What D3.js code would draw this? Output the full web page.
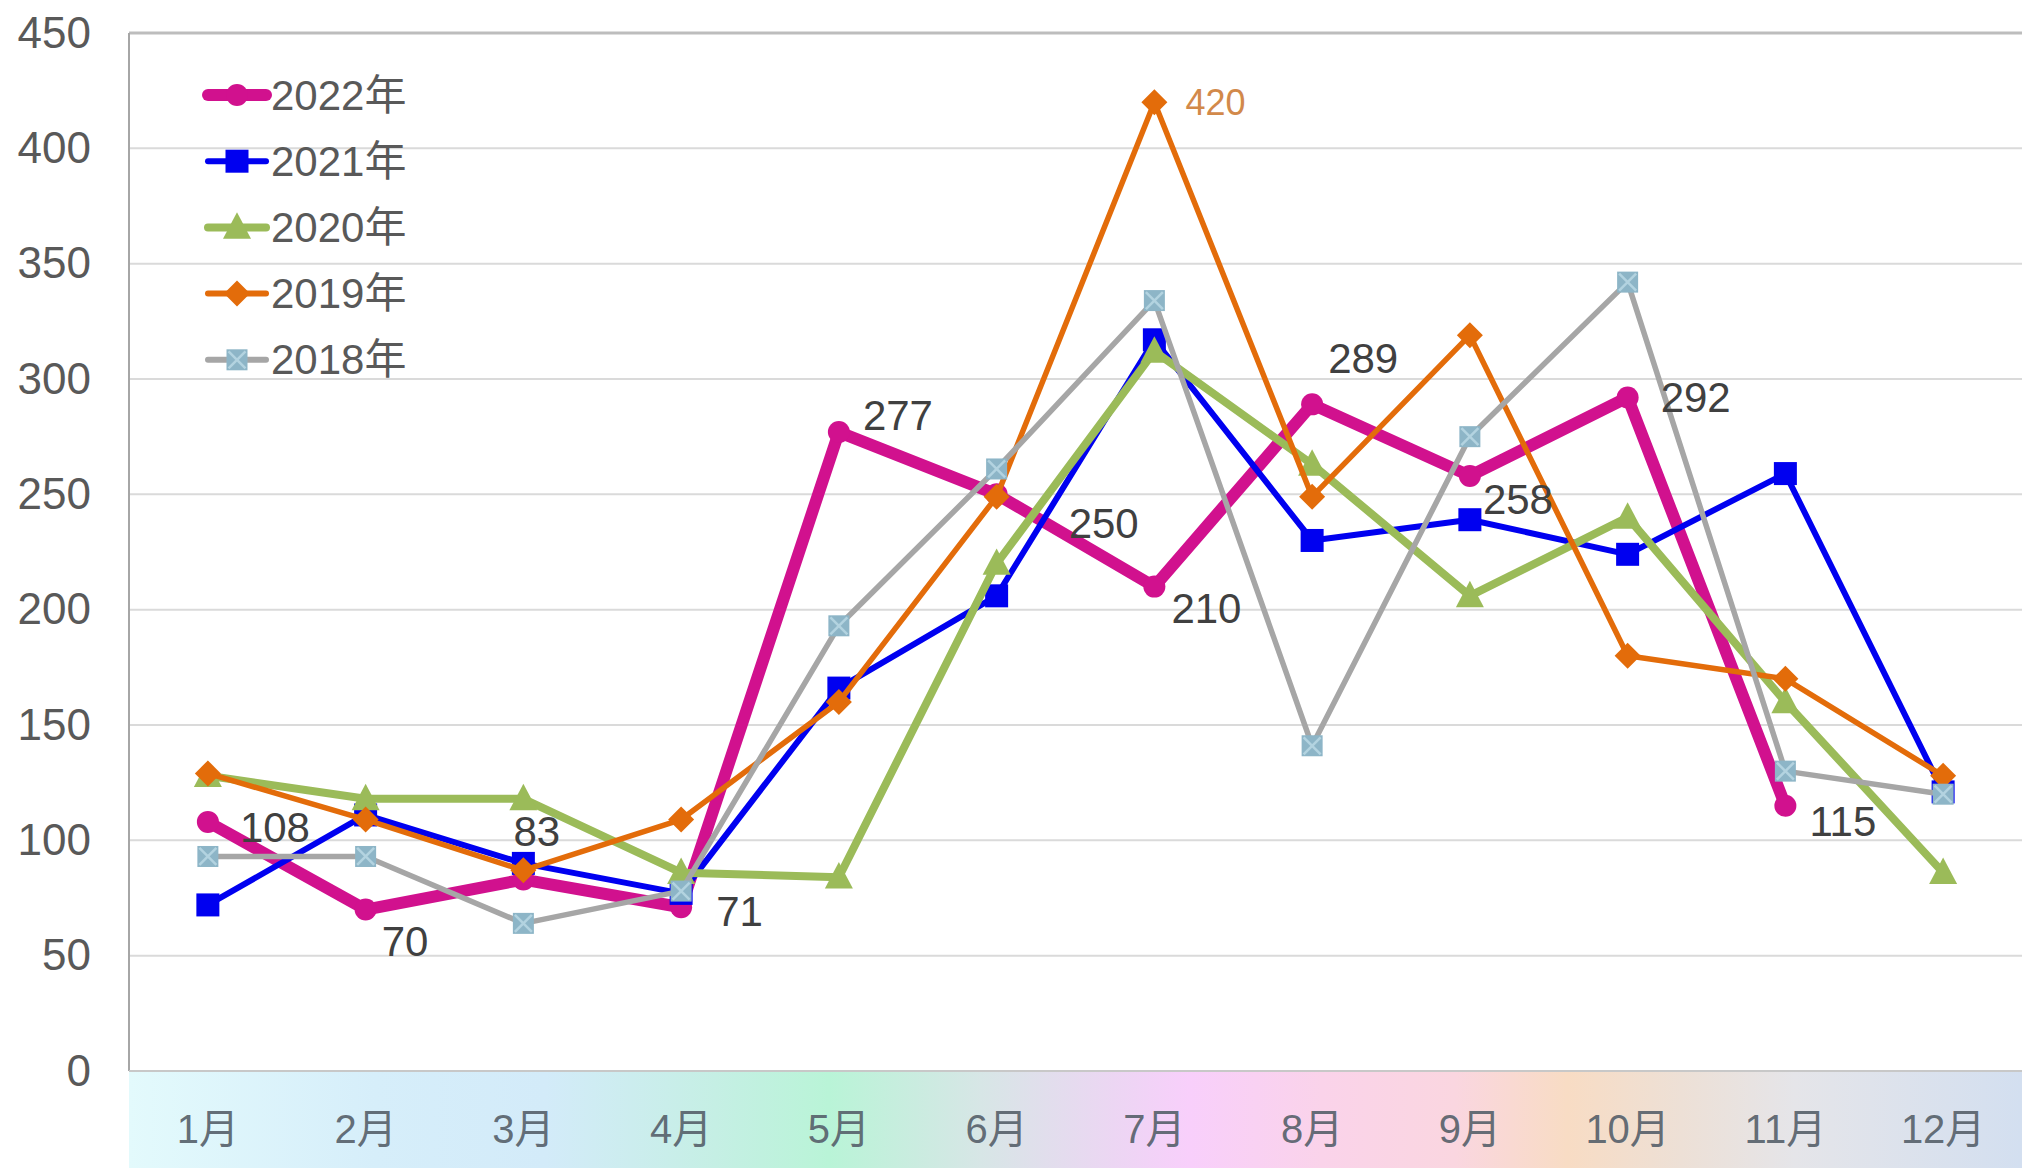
<!DOCTYPE html>
<html>
<head>
<meta charset="utf-8">
<script src="https://cdn.jsdelivr.net/npm/d3@7"></script>
<style>
  html, body { margin: 0; padding: 0; background: #fff; }
  svg { display: block; }
  text { font-family: "Liberation Sans", Arial, "Noto Sans CJK SC", sans-serif; }
</style>
</head>
<body>
<svg id="chart" width="2022" height="1168"></svg>
<script>
// ---------------- DATA ----------------
const months = ["1月","2月","3月","4月","5月","6月","7月","8月","9月","10月","11月","12月"];
const yTicks = [0, 50, 100, 150, 200, 250, 300, 350, 400, 450];
const seriesNames = ["2022年", "2021年", "2020年", "2019年", "2018年"];
const v2022 = [108, 70, 83, 71, 277, 250, 210, 289, 258, 292, 115, null];
const v2021 = [72, 111, 90, 77, 166, 206, 317, 230, 239, 224, 259, 121];
const v2020 = [128, 118, 118, 86, 84, 220, 312, 263, 206, 240, 160, 86];
const v2019 = [129, 109, 87, 109, 160, 249, 420, 249, 319, 180, 170, 128];
const v2018 = [93, 93, 64, 78, 193, 261, 334, 141, 275, 342, 130, 120];
// labelled points: 2022 series all points, 2019 only the peak
const label2019 = [null, null, null, null, null, null, 420, null, null, null, null, null];

// ---------------- LAYOUT / STYLE ----------------
const W = 2022, H = 1168;
const plot = { left: 129, right: 2022, top: 33, bottom: 1071 };
const styles = [
  { color: "#d1118e", width: 12, marker: "circle",   size: 11 },
  { color: "#0000f0", width: 6,  marker: "square",   size: 23 },
  { color: "#9bbb59", width: 8,  marker: "triangle", size: 28 },
  { color: "#e36c0a", width: 5.5,marker: "diamond",  size: 13 },
  { color: "#a6a6a6", width: 5.5,marker: "xsquare",  size: 21 }
];
// label offsets [dx (text start), dy (text middle)] for 2022 labels
const labelOffsets2022 = [[32,6],[16,32],[-10,-48],[35,4],[24,-17],[72,29],[17,22],[16,-46],[13,24],[33,0],[24,16],[0,0]];

const allSeries = [v2022, v2021, v2020, v2019, v2018];

const svg = d3.select("#chart");

const x = d3.scalePoint().domain(months).range([plot.left, plot.right]).padding(0.5);
const y = d3.scaleLinear().domain([0, 450]).range([plot.bottom, plot.top]);

// gradient for category band
const defs = svg.append("defs");
const grad = defs.append("linearGradient").attr("id", "bandGrad").attr("x1", "0%").attr("x2", "100%");
[
  [0, "#e3fafc"], [0.13, "#d6eefa"], [0.22, "#d3ebf9"], [0.31, "#c5efe4"], [0.37, "#b9f4d7"],
  [0.45, "#d7e6e6"], [0.52, "#ecd6f3"], [0.56, "#f8cffb"], [0.63, "#fad3ea"], [0.70, "#fad6e0"],
  [0.76, "#f8dcc4"], [0.82, "#ede0d6"], [0.88, "#e5e5e9"], [1, "#d3dff0"]
].forEach(([o, c]) => grad.append("stop").attr("offset", o).attr("stop-color", c));

svg.append("rect")
  .attr("x", plot.left).attr("y", plot.bottom)
  .attr("width", plot.right - plot.left).attr("height", H - plot.bottom)
  .attr("fill", "url(#bandGrad)");

// gridlines
svg.append("g").selectAll("line").data(yTicks.filter(t => t > 0 && t < 450)).join("line")
  .attr("x1", plot.left).attr("x2", plot.right)
  .attr("y1", d => y(d)).attr("y2", d => y(d))
  .attr("stroke", "#dadada").attr("stroke-width", 2);

// plot border top, left axis, baseline
svg.append("line").attr("x1", plot.left).attr("x2", plot.right).attr("y1", plot.top).attr("y2", plot.top)
  .attr("stroke", "#bdbdbd").attr("stroke-width", 3);
svg.append("line").attr("x1", plot.left).attr("x2", plot.left).attr("y1", plot.top).attr("y2", plot.bottom)
  .attr("stroke", "#a6a6a6").attr("stroke-width", 2);
svg.append("line").attr("x1", plot.left).attr("x2", plot.right).attr("y1", plot.bottom).attr("y2", plot.bottom)
  .attr("stroke", "#c8c8c8").attr("stroke-width", 2);

// y axis labels
const yAxis = d3.axisLeft(y).tickValues(yTicks).tickSize(0).tickPadding(0);
const gy = svg.append("g").attr("transform", `translate(${plot.left - 38},0)`).call(yAxis);
gy.select(".domain").remove();
gy.selectAll("text").attr("font-size", 44).attr("fill", "#595959")
  .style("font-family", '"Liberation Sans", Arial, sans-serif');

// x axis labels
const xAxis = d3.axisBottom(x).tickSize(0).tickPadding(0);
const gx = svg.append("g").attr("transform", `translate(0,${plot.bottom + 44})`).call(xAxis);
gx.select(".domain").remove();
gx.selectAll("text").attr("font-size", 41).attr("fill", "#57616b").attr("fill-opacity", 0.92)
  .attr("transform", "scale(0.92,1)")
  .each(function () {
    const t = d3.select(this.parentNode);
  });
// compensate the horizontal squeeze so labels remain centred on their ticks
gx.selectAll(".tick").each(function (d) {
  const tx = x(d);
  d3.select(this).attr("transform", `translate(${tx},0)`);
});
gx.selectAll("text").attr("transform", null)
  .attr("textLength", null)
  .style("font-family", '"Liberation Sans", Arial, "Noto Sans CJK SC", sans-serif')
  .attr("font-size", 40);

// marker drawing
function drawMarker(g, st, cx, cy) {
  const s = st.size;
  if (st.marker === "circle") {
    g.append("circle").attr("cx", cx).attr("cy", cy).attr("r", s).attr("fill", st.color);
  } else if (st.marker === "square") {
    g.append("rect").attr("x", cx - s/2).attr("y", cy - s/2).attr("width", s).attr("height", s).attr("fill", st.color);
  } else if (st.marker === "triangle") {
    const h = s * 0.9;
    g.append("path").attr("d", `M${cx},${cy - h*0.6}L${cx + s/2},${cy + h*0.45}L${cx - s/2},${cy + h*0.45}Z`).attr("fill", st.color);
  } else if (st.marker === "diamond") {
    g.append("path").attr("d", `M${cx},${cy - s}L${cx + s},${cy}L${cx},${cy + s}L${cx - s},${cy}Z`).attr("fill", st.color);
  } else if (st.marker === "xsquare") {
    g.append("rect").attr("x", cx - s/2).attr("y", cy - s/2).attr("width", s).attr("height", s).attr("fill", "#8db5c7");
    g.append("path").attr("d", `M${cx - s/2 + 2},${cy - s/2 + 2}L${cx + s/2 - 2},${cy + s/2 - 2}M${cx + s/2 - 2},${cy - s/2 + 2}L${cx - s/2 + 2},${cy + s/2 - 2}`)
      .attr("stroke", "#b3d3e0").attr("stroke-width", 2.5);
  }
}

const line = d3.line()
  .defined(d => d.v !== null)
  .x(d => x(d.m)).y(d => y(d.v));

// series
allSeries.forEach((vals, i) => {
  const st = styles[i];
  const pts = vals.map((v, j) => ({ m: months[j], v }));
  const g = svg.append("g");
  g.append("path").datum(pts).attr("d", line)
    .attr("fill", "none").attr("stroke", st.color).attr("stroke-width", st.width)
    .attr("stroke-linejoin", "round").attr("stroke-linecap", "round");
  pts.filter(p => p.v !== null).forEach(p => drawMarker(g, st, x(p.m), y(p.v)));
});

// data labels 2022
const lg = svg.append("g");
v2022.forEach((v, j) => {
  if (v === null) return;
  const [dx, dy] = labelOffsets2022[j];
  lg.append("text").attr("x", x(months[j]) + dx).attr("y", y(v) + dy)
    .attr("dominant-baseline", "central").attr("font-size", 42).attr("fill", "#404040").text(v);
});
label2019.forEach((v, j) => {
  if (v === null) return;
  lg.append("text").attr("x", x(months[j]) + 31).attr("y", y(v))
    .attr("dominant-baseline", "central").attr("font-size", 36).attr("fill", "#d2894a").text(v);
});

// legend
const legY0 = 95, legStep = 66.2;
seriesNames.forEach((name, i) => {
  const st = styles[i];
  const cy = legY0 + i * legStep;
  const g = svg.append("g");
  g.append("line").attr("x1", 208).attr("x2", 266).attr("y1", cy).attr("y2", cy)
    .attr("stroke", st.color).attr("stroke-width", Math.max(st.width, 6)).attr("stroke-linecap", "round");
  drawMarker(g, st, 237, cy);
  g.append("text").attr("x", 271).attr("y", cy).attr("dominant-baseline", "central")
    .attr("font-size", 42).attr("fill", "#595959").text(name);
});
</script>
</body>
</html>
